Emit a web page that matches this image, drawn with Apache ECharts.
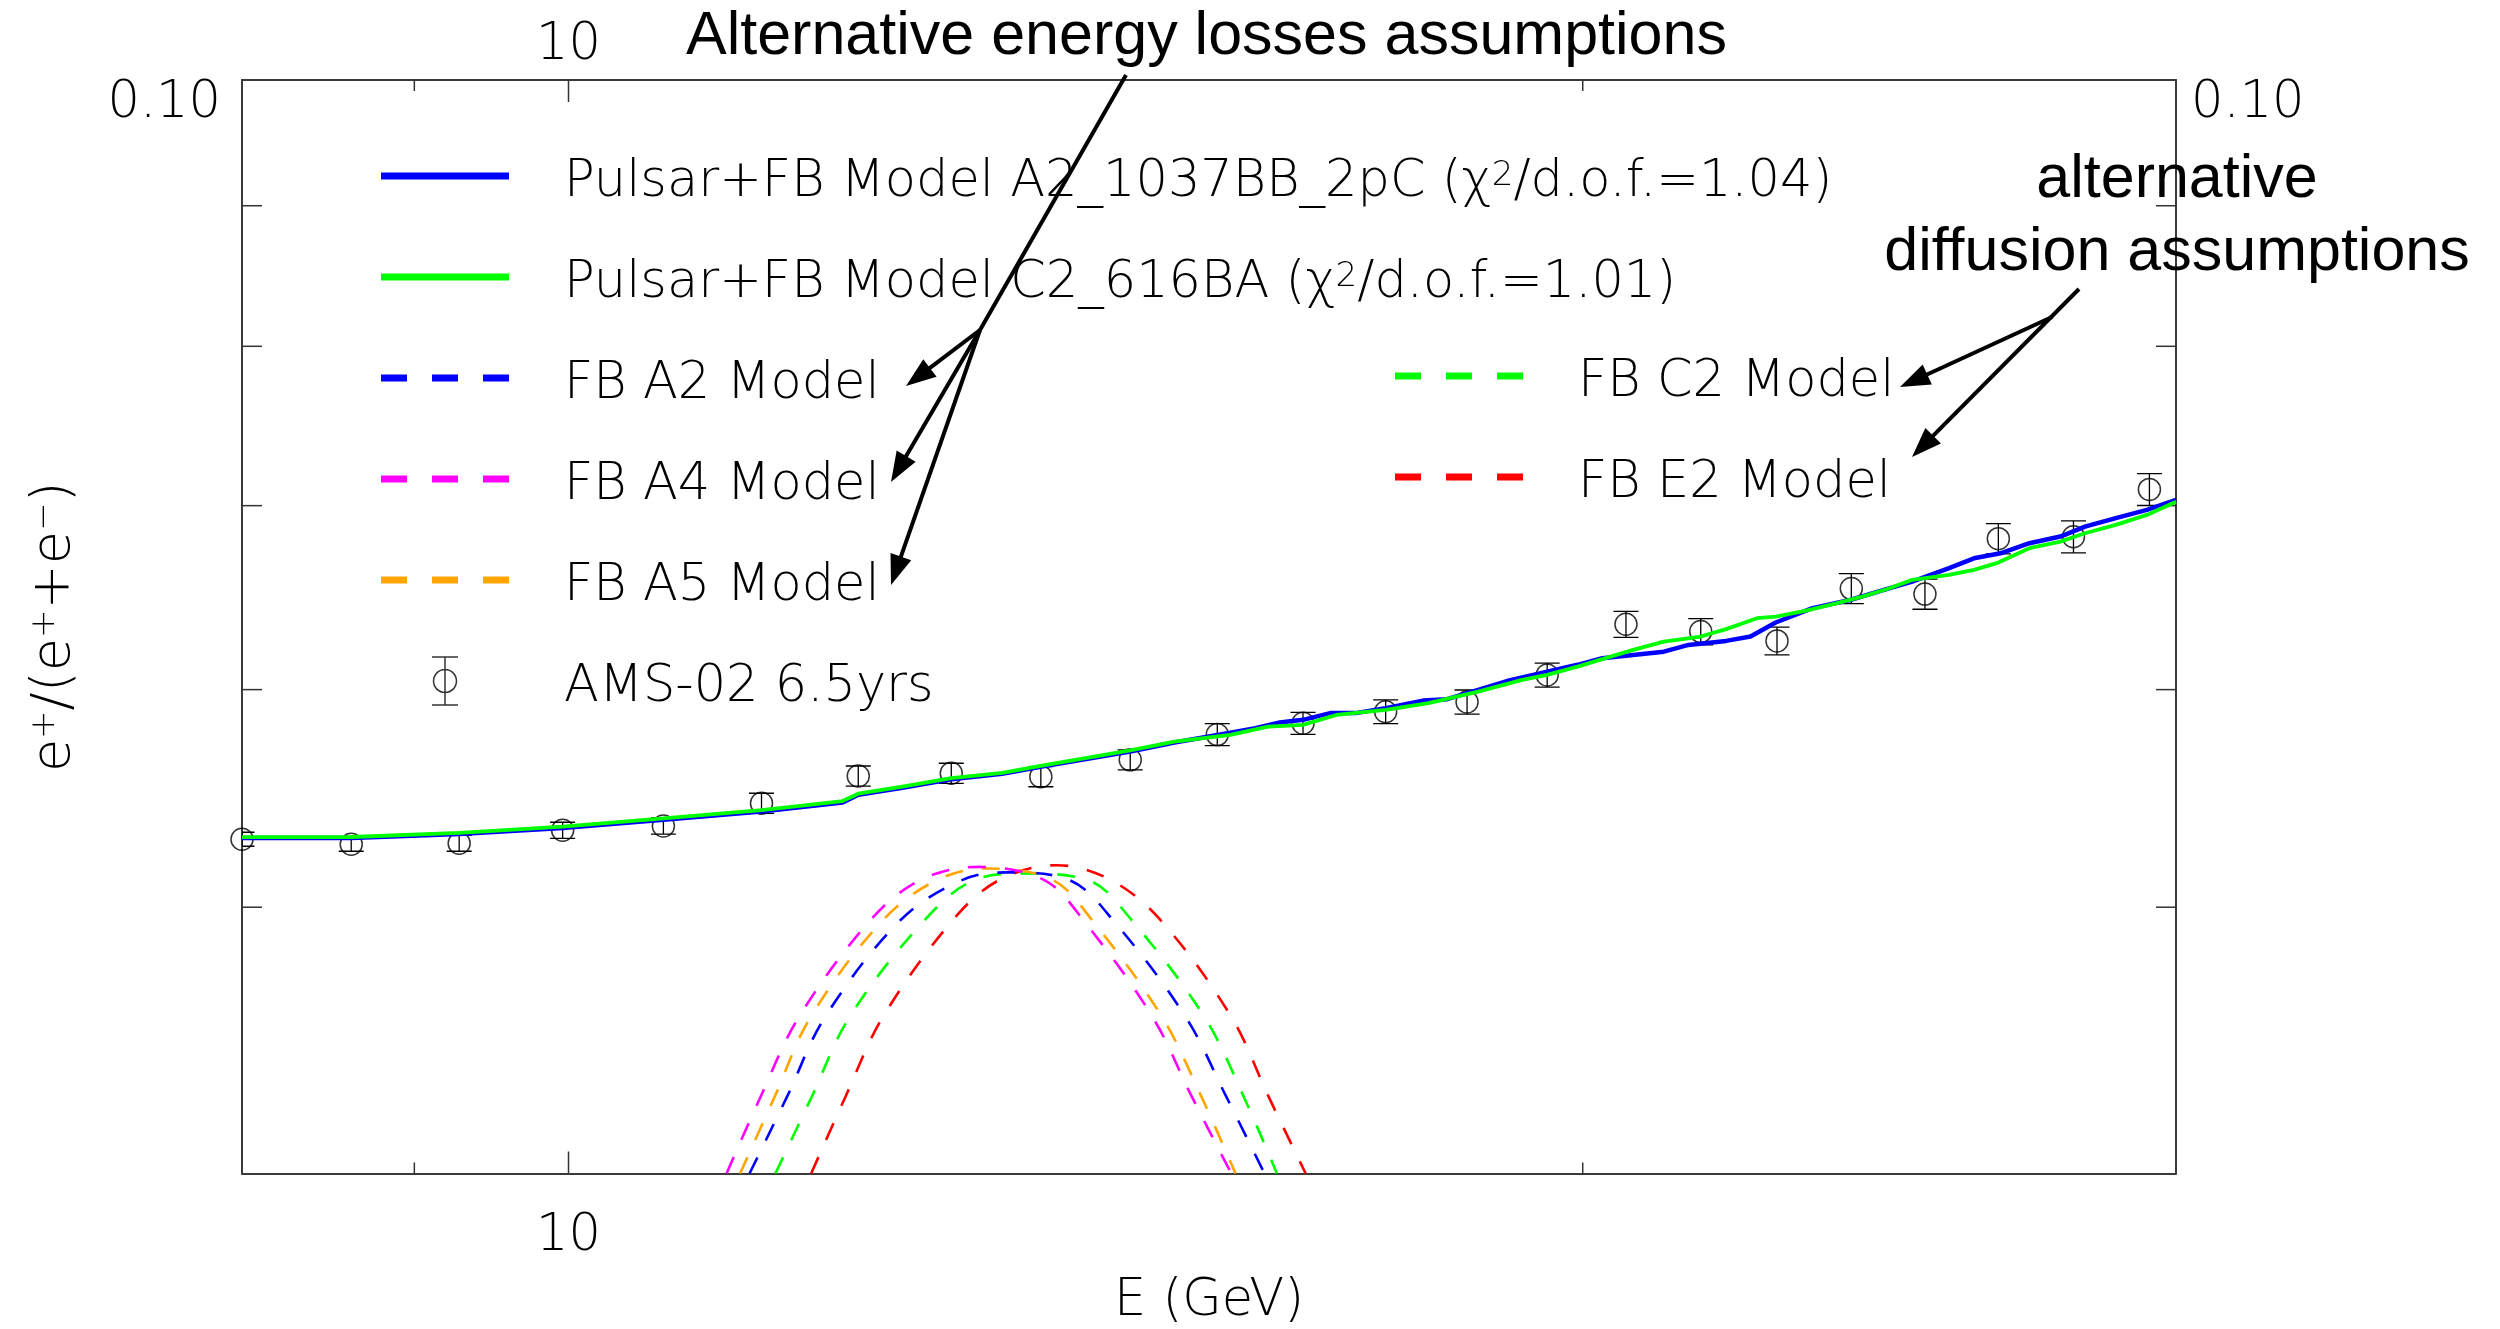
<!DOCTYPE html>
<html>
<head>
<meta charset="utf-8">
<script src="https://cdn.jsdelivr.net/npm/echarts@6/dist/echarts.min.js"></script>
<style>
  html, body { margin: 0; padding: 0; background: #ffffff; }
  #chart { width: 2500px; height: 1329px; }
</style>
</head>
<body>
<div id="chart"></div>
<script>
// ---- Axis ranges and tick values ----
const X_RANGE = [8, 30];
const Y_RANGE = [0.04, 0.1];
const xMajorTicks = [10];
const xMinorTicks = [9, 20];
const yMinorTicks = [0.05, 0.06, 0.07, 0.08, 0.09];
const xLabelValues = [10];
const yLabelValues = [0.1];

// ---- AMS-02 positron fraction, 6.5 years ----
const amsEnergy   = [8.0, 8.62, 9.28, 9.96, 10.67, 11.41, 12.19, 12.99, 13.81, 14.68, 15.58, 16.52,
                     17.48, 18.48, 19.52, 20.60, 21.68, 22.84, 24.03, 25.27, 26.57, 27.97, 29.46];
const amsFraction = [0.05293, 0.05271, 0.05275, 0.05333, 0.05352, 0.05455, 0.05581, 0.05594, 0.05578, 0.05657, 0.05778, 0.05833,
                     0.05890, 0.05938, 0.06074, 0.06338, 0.06299, 0.06250, 0.06530, 0.06500, 0.06809, 0.06820, 0.07096];
const amsError    = [0.00031, 0.00031, 0.00035, 0.00036, 0.00036, 0.00046, 0.00047, 0.00047, 0.00047, 0.00047, 0.00053, 0.00054,
                     0.00059, 0.00060, 0.00061, 0.00069, 0.00069, 0.00073, 0.00082, 0.00082, 0.00086, 0.00091, 0.00095];

// ---- Pulsar + Fermi-bubble total models ----
const pulsarA2Energy   = [8.0, 8.62, 9.28, 9.96, 10.67, 11.41, 12.06, 12.19, 12.55, 12.99, 13.45, 13.82, 14.68, 15.13, 15.72,
                          15.99, 16.26, 16.52, 16.83, 17.12, 17.48, 17.93, 18.23, 18.62, 19.02, 19.52, 19.93, 20.27, 20.70,
                          21.14, 21.50, 22.06, 22.43, 22.82, 23.40, 24.01, 24.63, 25.05, 25.69, 26.13, 26.61, 27.14, 27.72,
                          28.19, 28.79, 29.41, 30.0];
const pulsarA2Fraction = [0.05298, 0.05298, 0.05316, 0.05343, 0.05380, 0.05417, 0.05458, 0.05494, 0.05525, 0.05566, 0.05591, 0.05625,
                          0.05697, 0.05740, 0.05787, 0.05809, 0.05837, 0.05850, 0.05883, 0.05883, 0.05907, 0.05945, 0.05952, 0.05999,
                          0.06046, 0.06091, 0.06126, 0.06160, 0.06177, 0.06194, 0.06229, 0.06250, 0.06273, 0.06347, 0.06424, 0.06468,
                          0.06528, 0.06568, 0.06643, 0.06698, 0.06726, 0.06783, 0.06821, 0.06878, 0.06927, 0.06975, 0.07034];

const pulsarC2Energy   = [8.0, 8.62, 9.28, 9.96, 10.67, 11.41, 12.06, 12.19, 12.55, 12.99, 13.45, 13.82, 14.68, 15.13, 15.72,
                          16.13, 16.52, 16.90, 17.48, 18.00, 18.62, 19.19, 19.52, 19.93, 20.27, 20.70, 21.14, 21.68, 22.06,
                          22.53, 22.82, 23.30, 23.80, 24.21, 24.63, 25.05, 25.69, 26.13, 26.57, 27.14, 27.72, 28.19, 28.79,
                          29.41, 30.0];
const pulsarC2Fraction = [0.05302, 0.05303, 0.05321, 0.05349, 0.05386, 0.05424, 0.05465, 0.05499, 0.05530, 0.05571, 0.05596, 0.05630,
                          0.05702, 0.05744, 0.05777, 0.05817, 0.05825, 0.05874, 0.05899, 0.05932, 0.05990, 0.06049, 0.06075, 0.06117,
                          0.06155, 0.06203, 0.06246, 0.06273, 0.06312, 0.06370, 0.06379, 0.06411, 0.06451, 0.06486, 0.06528, 0.06578,
                          0.06605, 0.06633, 0.06674, 0.06755, 0.06792, 0.06840, 0.06888, 0.06946, 0.07023];

// ---- Fermi-bubble contributions for the alternative propagation models ----
const fbA2Energy   = [11.317, 11.611, 11.917, 12.547, 13.085, 13.498, 14.082, 14.508, 15.246, 15.676, 16.091];
const fbA2Fraction = [0.0400, 0.04266, 0.04561, 0.04946, 0.05115, 0.05148, 0.05115, 0.04946, 0.04561, 0.04266, 0.0400];
const fbA4Energy   = [11.141, 11.403, 11.706, 12.292, 12.718, 13.233, 13.843, 14.217, 14.905, 15.311, 15.730];
const fbA4Fraction = [0.0400, 0.04266, 0.04561, 0.04946, 0.05115, 0.05172, 0.05115, 0.04946, 0.04561, 0.04266, 0.0400];
const fbA5Energy   = [11.244, 11.513, 11.800, 12.397, 12.864, 13.308, 13.923, 14.302, 15.002, 15.412, 15.775];
const fbA5Fraction = [0.0400, 0.04266, 0.04561, 0.04946, 0.05115, 0.05165, 0.05115, 0.04946, 0.04561, 0.04266, 0.0400];
const fbC2Energy   = [11.519, 11.809, 12.118, 12.755, 13.196, 13.648, 14.262, 14.694, 15.443, 15.864, 16.228];
const fbC2Fraction = [0.0400, 0.04266, 0.04561, 0.04946, 0.05115, 0.05143, 0.05115, 0.04946, 0.04561, 0.04266, 0.0400];
const fbE2Energy   = [11.804, 12.084, 12.397, 13.003, 13.422, 13.963, 14.487, 14.988, 15.730, 16.136, 16.550];
const fbE2Fraction = [0.0400, 0.04266, 0.04561, 0.04946, 0.05115, 0.05179, 0.05115, 0.04946, 0.04561, 0.04266, 0.0400];

// ---- Series names ----
const NAME_PULSAR_A2 = 'Pulsar+FB Model A2_1037BB_2pC (\u03c7\u00b2/d.o.f.=1.04)';
const NAME_PULSAR_C2 = 'Pulsar+FB Model C2_616BA (\u03c7\u00b2/d.o.f.=1.01)';
const NAME_FB_A2 = 'FB A2 Model';
const NAME_FB_A4 = 'FB A4 Model';
const NAME_FB_A5 = 'FB A5 Model';
const NAME_FB_C2 = 'FB C2 Model';
const NAME_FB_E2 = 'FB E2 Model';
const NAME_AMS = 'AMS-02 6.5yrs';

const zip = (xs, ys) => xs.map((x, i) => [x, ys[i]]);

const IDL_FONT = 'DejaVu Sans';
const IDL_WEIGHT = 200;
const ANNOT_FONT = '"Liberation Sans", Arial, Helvetica, sans-serif';

const chart = echarts.init(document.getElementById('chart'), null, { renderer: 'canvas' });

function fmtLabel(values, text) {
  return v => values.some(t => Math.abs(v / t - 1) < 1e-6) ? text(v) : '';
}

const axisLineStyle = { color: '#3a3a3a', width: 2 };
const tickColor = '#333333';

function xTickRenderer(len) {
  return function (params, api) {
    const cs = params.coordSys;
    const x = api.coord([api.value(0), Y_RANGE[0]])[0];
    const yb = cs.y + cs.height, yt = cs.y;
    return {
      type: 'group',
      children: [
        { type: 'line', shape: { x1: x, y1: yb, x2: x, y2: yb - len }, style: { stroke: tickColor, lineWidth: 1.5 } },
        { type: 'line', shape: { x1: x, y1: yt, x2: x, y2: yt + len }, style: { stroke: tickColor, lineWidth: 1.5 } }
      ]
    };
  };
}

function yTickRenderer(len) {
  return function (params, api) {
    const cs = params.coordSys;
    const y = api.coord([X_RANGE[0], api.value(1)])[1];
    const xl = cs.x, xr = cs.x + cs.width;
    return {
      type: 'group',
      children: [
        { type: 'line', shape: { x1: xl, y1: y, x2: xl + len, y2: y }, style: { stroke: tickColor, lineWidth: 1.5 } },
        { type: 'line', shape: { x1: xr, y1: y, x2: xr - len, y2: y }, style: { stroke: tickColor, lineWidth: 1.5 } }
      ]
    };
  };
}

function errorBarRenderer(params, api) {
  const x = api.value(0);
  const lo = api.coord([x, api.value(1)]);
  const hi = api.coord([x, api.value(2)]);
  const cap = 12.5;
  const st = { stroke: '#000', lineWidth: 1.3 };
  return {
    type: 'group',
    children: [
      { type: 'line', shape: { x1: lo[0], y1: lo[1], x2: hi[0], y2: hi[1] }, style: st },
      { type: 'line', shape: { x1: lo[0] - cap, y1: lo[1], x2: lo[0] + cap, y2: lo[1] }, style: st },
      { type: 'line', shape: { x1: hi[0] - cap, y1: hi[1], x2: hi[0] + cap, y2: hi[1] }, style: st }
    ]
  };
}

// Annotation arrows (pixel geometry of the call-outs)
const calloutLines = [
  { from: [1126, 75], to: [980, 330], head: false },
  { from: [980, 330], to: [906, 386], head: true },
  { from: [980, 330], to: [891, 482], head: true },
  { from: [980, 330], to: [891, 585], head: true },
  { from: [2079, 289], to: [1912, 457], head: true },
  { from: [2052, 317], to: [1900, 387], head: true }
];

function calloutGraphics() {
  const out = [];
  const headLen = 30, headHalf = 11;
  calloutLines.forEach(c => {
    const [x1, y1] = c.from, [x2, y2] = c.to;
    const dx = x2 - x1, dy = y2 - y1, d = Math.hypot(dx, dy);
    const ux = dx / d, uy = dy / d;
    const ex = c.head ? x2 - ux * (headLen - 2) : x2;
    const ey = c.head ? y2 - uy * (headLen - 2) : y2;
    out.push({ type: 'line', shape: { x1, y1, x2: ex, y2: ey }, style: { stroke: '#000', lineWidth: 4 }, z: 100 });
    if (c.head) {
      const bx = x2 - ux * headLen, by = y2 - uy * headLen;
      out.push({
        type: 'polygon',
        shape: { points: [[x2, y2], [bx - uy * headHalf, by + ux * headHalf], [bx + uy * headHalf, by - ux * headHalf]] },
        style: { fill: '#000' }, z: 100
      });
    }
  });
  return out;
}

// Legend key shapes: a thick bar for solid models, three dashes for the FB models
const ICON_SOLID = 'path://M0,0L128,0L128,7L0,7Z';
const ICON_DASHED = 'path://M0,0L26,0L26,7L0,7ZM51,0L77,0L77,7L51,7ZM102,0L128,0L128,7L102,7Z';
const ICON_POINT = 'path://M-12.5,-23L12.5,-23M0,-23L0,23M-12.5,23L12.5,23M11,0A11,11,0,1,1,-11,0A11,11,0,1,1,11,0Z';
const keyBar = { borderWidth: 0 };

const legendText = {
  fontFamily: IDL_FONT, fontWeight: IDL_WEIGHT, fontSize: 51, lineHeight: 48, color: '#000',
  padding: [14, 0, 0, 50],
  rich: {
    sup: { fontFamily: IDL_FONT, fontWeight: IDL_WEIGHT, fontSize: 34, lineHeight: 20, verticalAlign: 'top', color: '#000' }
  }
};
const legendFormatter = name => name.replace('\u00b2', '{sup|2}');

const option = {
  backgroundColor: '#ffffff',
  animation: false,
  grid: { left: 242, top: 80, width: 1934, height: 1093.5, containLabel: false, outerBoundsMode: 'none' },
  xAxis: [
    {
      type: 'log', logBase: 10, min: X_RANGE[0], max: X_RANGE[1], position: 'bottom',
      axisLine: { show: true, lineStyle: axisLineStyle },
      axisTick: { show: false }, splitLine: { show: false }, minorTick: { show: false },
      axisLabel: {
        interval: 0, margin: 45, formatter: fmtLabel(xLabelValues, () => '10'),
        fontFamily: IDL_FONT, fontWeight: IDL_WEIGHT, fontSize: 51, lineHeight: 36, color: '#000'
      },
      name: 'E (GeV)', nameLocation: 'middle', nameGap: 110,
      nameTextStyle: { fontFamily: IDL_FONT, fontWeight: IDL_WEIGHT, fontSize: 51, lineHeight: 36, color: '#000' }
    },
    {
      type: 'log', logBase: 10, min: X_RANGE[0], max: X_RANGE[1], position: 'top',
      axisLine: { show: true, lineStyle: axisLineStyle },
      axisTick: { show: false }, splitLine: { show: false },
      axisLabel: {
        interval: 0, margin: 16, formatter: fmtLabel(xLabelValues, () => '10'),
        fontFamily: IDL_FONT, fontWeight: IDL_WEIGHT, fontSize: 51, lineHeight: 36, color: '#000'
      }
    }
  ],
  yAxis: [
    {
      type: 'log', logBase: 10, min: Y_RANGE[0], max: Y_RANGE[1], position: 'left',
      axisLine: { show: true, lineStyle: axisLineStyle },
      axisTick: { show: false }, splitLine: { show: false },
      axisLabel: {
        margin: 21, formatter: fmtLabel(yLabelValues, v => v.toFixed(2)), verticalAlign: 'top',
        fontFamily: IDL_FONT, fontWeight: IDL_WEIGHT, fontSize: 51, lineHeight: 48, color: '#000'
      },
      name: 'e{sup|+}/(e{sup|+}+e{sup|\u2212})', nameLocation: 'middle', nameGap: 160,
      nameTextStyle: {
        fontFamily: IDL_FONT, fontWeight: IDL_WEIGHT, fontSize: 54, lineHeight: 54, color: '#000',
        rich: { sup: { fontFamily: IDL_FONT, fontWeight: IDL_WEIGHT, fontSize: 34, lineHeight: 22, verticalAlign: 'top', color: '#000' } }
      }
    },
    {
      type: 'log', logBase: 10, min: Y_RANGE[0], max: Y_RANGE[1], position: 'right',
      axisLine: { show: true, lineStyle: axisLineStyle },
      axisTick: { show: false }, splitLine: { show: false },
      axisLabel: {
        margin: 15, formatter: fmtLabel(yLabelValues, v => v.toFixed(2)), verticalAlign: 'top',
        fontFamily: IDL_FONT, fontWeight: IDL_WEIGHT, fontSize: 51, lineHeight: 48, color: '#000'
      }
    }
  ],
  legend: [
    {
      orient: 'vertical', left: 381, top: 145, padding: 0, itemGap: 37.5,
      itemWidth: 128, itemHeight: 48, selectedMode: false, symbolKeepAspect: true,
      textStyle: legendText, formatter: legendFormatter,
      data: [
        { name: NAME_PULSAR_A2, icon: ICON_SOLID, itemStyle: keyBar },
        { name: NAME_PULSAR_C2, icon: ICON_SOLID, itemStyle: keyBar },
        { name: NAME_FB_A2, icon: ICON_DASHED, itemStyle: keyBar },
        { name: NAME_FB_A4, icon: ICON_DASHED, itemStyle: keyBar },
        { name: NAME_FB_A5, icon: ICON_DASHED, itemStyle: keyBar },
        {
          name: NAME_AMS, icon: ICON_POINT,
          itemStyle: { color: 'rgba(0,0,0,0)', borderColor: '#000', borderWidth: 1.5 }
        }
      ]
    },
    {
      orient: 'vertical', left: 1395, top: 345, padding: 0, itemGap: 37.5,
      itemWidth: 128, itemHeight: 48, selectedMode: false, symbolKeepAspect: true,
      textStyle: legendText, formatter: legendFormatter,
      data: [
        { name: NAME_FB_C2, icon: ICON_DASHED, itemStyle: keyBar },
        { name: NAME_FB_E2, icon: ICON_DASHED, itemStyle: keyBar }
      ]
    }
  ],
  graphic: [
    {
      type: 'text', x: 686, y: 37, z: 100,
      style: { text: 'Alternative energy losses assumptions', font: '61px ' + ANNOT_FONT, fill: '#000', align: 'left', verticalAlign: 'middle' }
    },
    {
      type: 'text', x: 2177, y: 180, z: 100,
      style: { text: 'alternative', font: '61px ' + ANNOT_FONT, fill: '#000', align: 'center', verticalAlign: 'middle' }
    },
    {
      type: 'text', x: 2177, y: 253, z: 100,
      style: { text: 'diffusion assumptions', font: '61px ' + ANNOT_FONT, fill: '#000', align: 'center', verticalAlign: 'middle' }
    }
  ].concat(calloutGraphics()),
  series: [
    {
      name: 'ticks-x-major', type: 'custom', silent: true, clip: false,
      renderItem: xTickRenderer(22), encode: { x: 0, y: 1 },
      data: xMajorTicks.map(v => [v, Y_RANGE[0]])
    },
    {
      name: 'ticks-x-minor', type: 'custom', silent: true, clip: false,
      renderItem: xTickRenderer(11), encode: { x: 0, y: 1 },
      data: xMinorTicks.map(v => [v, Y_RANGE[0]])
    },
    {
      name: 'ticks-y', type: 'custom', silent: true, clip: false,
      renderItem: yTickRenderer(20), encode: { x: 0, y: 1 },
      data: yMinorTicks.map(v => [X_RANGE[0], v])
    },
    {
      name: NAME_AMS, type: 'scatter', symbol: 'circle', symbolSize: 22, clip: true,
      itemStyle: { color: 'rgba(0,0,0,0)', borderColor: '#000', borderWidth: 1.5 },
      data: zip(amsEnergy, amsFraction)
    },
    {
      name: 'ams-errors', type: 'custom', silent: true, clip: true,
      renderItem: errorBarRenderer, encode: { x: 0, y: [1, 2] },
      data: amsEnergy.map((e, i) => [e, amsFraction[i] - amsError[i], amsFraction[i] + amsError[i]])
    },
    {
      name: NAME_FB_E2, type: 'line', symbol: 'none', smooth: 0.35, clip: true,
      lineStyle: { color: '#ff0000', width: 2.6, type: [18, 19] }, itemStyle: { color: '#ff0000' },
      data: zip(fbE2Energy, fbE2Fraction)
    },
    {
      name: NAME_FB_C2, type: 'line', symbol: 'none', smooth: 0.35, clip: true,
      lineStyle: { color: '#00ff00', width: 2.6, type: [18, 19] }, itemStyle: { color: '#00ff00' },
      data: zip(fbC2Energy, fbC2Fraction)
    },
    {
      name: NAME_FB_A2, type: 'line', symbol: 'none', smooth: 0.35, clip: true,
      lineStyle: { color: '#0000ff', width: 2.6, type: [18, 19] }, itemStyle: { color: '#0000ff' },
      data: zip(fbA2Energy, fbA2Fraction)
    },
    {
      name: NAME_FB_A5, type: 'line', symbol: 'none', smooth: 0.35, clip: true,
      lineStyle: { color: '#ffa500', width: 2.6, type: [18, 19] }, itemStyle: { color: '#ffa500' },
      data: zip(fbA5Energy, fbA5Fraction)
    },
    {
      name: NAME_FB_A4, type: 'line', symbol: 'none', smooth: 0.35, clip: true,
      lineStyle: { color: '#ff00ff', width: 2.6, type: [18, 19] }, itemStyle: { color: '#ff00ff' },
      data: zip(fbA4Energy, fbA4Fraction)
    },
    {
      name: NAME_PULSAR_A2, type: 'line', symbol: 'none', clip: true,
      lineStyle: { color: '#0000ff', width: 4.5 }, itemStyle: { color: '#0000ff' },
      data: zip(pulsarA2Energy, pulsarA2Fraction)
    },
    {
      name: NAME_PULSAR_C2, type: 'line', symbol: 'none', clip: true,
      lineStyle: { color: '#00ff00', width: 3.8 }, itemStyle: { color: '#00ff00' },
      data: zip(pulsarC2Energy, pulsarC2Fraction)
    }
  ]
};

chart.setOption(option);
</script>
</body>
</html>
